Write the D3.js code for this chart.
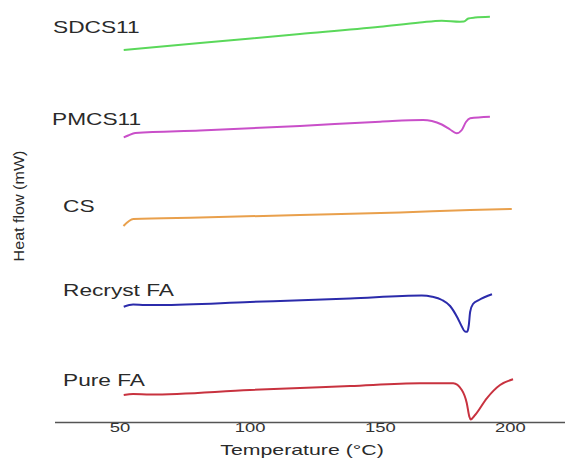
<!DOCTYPE html>
<html>
<head>
<meta charset="utf-8">
<script src="https://cdn.jsdelivr.net/npm/d3@7"></script>
<style>
  body { margin: 0; background: #fff; }
  text { font-family: "Liberation Sans", Arial, sans-serif; fill: #2a2a2a; }
</style>
</head>
<body>
<div id="chart"></div>
<script>
// temperature (°C) and stacked heat flow (arbitrary offset units)
var sdcsT = [51.6, 80.9, 119.3, 150.1, 165.4, 173.8, 180.8, 182.3, 184.0, 186.6, 192.3];
var sdcsV = [37.2, 37.9, 38.8, 39.53, 39.95, 40.13, 40.03, 40.04, 40.35, 40.45, 40.53];

var pmcsT = [51.6, 53.3, 56.0, 80.9, 119.3, 150.1, 166.6, 170.0, 173.8, 177.0, 179.5, 181.5, 183.1, 184.7, 192.3];
var pmcsV = [28.47, 28.65, 28.9, 29.15, 29.6, 30.03, 30.2, 30.1, 29.75, 29.25, 28.87, 29.2, 30.0, 30.37, 30.53];

var csT = [51.5, 55.3, 80.9, 119.3, 157.8, 184.7, 200.7];
var csV = [19.6, 20.3, 20.45, 20.7, 20.95, 21.2, 21.3];

var recT = [51.6, 55.2, 59.8, 65.6, 100.1, 138.6, 166.1, 170.1, 173.9, 177.0, 179.9, 181.6, 182.7, 183.6, 184.2, 184.7, 185.8, 188.1, 193.1];
var recV = [11.53, 11.75, 11.7, 11.7, 12.0, 12.35, 12.65, 12.53, 12.2, 11.6, 10.4, 9.5, 9.05, 9.03, 9.7, 11.0, 11.8, 12.2, 12.77];

var pureT = [51.6, 55.2, 61.7, 100.1, 138.6, 165.4, 178.2, 181.5, 183.4, 184.4, 184.9, 186.6, 191.1, 196.2, 201.2];
var pureV = [2.7, 2.8, 2.75, 3.2, 3.6, 3.87, 3.87, 3.2, 1.9, 0.53, 0.25, 0.7, 2.37, 3.7, 4.27];

var seriesNames = ["SDCS11", "PMCS11", "CS", "Recryst FA", "Pure FA"];
var xTicks = [50, 100, 150, 200];

var width = 565, height = 459;
var colors = ["#5ad85a", "#c94fc9", "#e9a04c", "#2b2bab", "#c8323f"];
// label anchor spots (left x, baseline y) in px
var labelPos = [[53, 33], [52, 125], [63, 212], [63, 296], [63, 386]];
var stretch = 1.42;

var seriesT = [sdcsT, pmcsT, csT, recT, pureT];
var seriesV = [sdcsV, pmcsV, csV, recV, pureV];
var data = seriesNames.map(function(n, i) {
    return { name: n, color: colors[i],
             pts: seriesT[i].map(function(t, j) { return { t: t, v: seriesV[i][j] }; }) };
});

var xScale = d3.scaleLinear().domain([25, 221]).range([54.5, 564.6]);
var yScale = d3.scaleLinear().domain([0, 40]).range([422, 22]);

var svg = d3.select("#chart").append("svg")
    .attr("width", width)
    .attr("height", height);

var line = d3.line()
    .x(function(d) { return xScale(d.t); })
    .y(function(d) { return yScale(d.v); })
    .curve(d3.curveMonotoneX);

svg.selectAll(".trace")
    .data(data)
    .enter()
    .append("path")
        .attr("class", "trace")
        .attr("d", function(d) { return line(d.pts); })
        .style("fill", "none")
        .style("stroke", function(d) { return d.color; })
        .style("stroke-width", 2)
        .style("stroke-linejoin", "round");

svg.selectAll(".slabel")
    .data(data)
    .enter()
    .append("text")
        .attr("class", "slabel")
        .attr("transform", function(d, i) {
            return "translate(" + labelPos[i][0] + "," + labelPos[i][1] + ") scale(" + stretch + ",1)";
        })
        .style("font-size", "16px")
        .text(function(d) { return d.name; });

// x axis, no tick marks
var xAxis = d3.axisBottom(xScale)
    .tickValues(xTicks)
    .tickSize(0)
    .tickPadding(1);

var gx = svg.append("g")
    .attr("transform", "translate(0," + yScale(0) + ")")
    .call(xAxis);
gx.select(".domain").style("stroke", "#555").style("stroke-width", 1.5);
gx.selectAll(".tick text")
    .attr("transform", "scale(" + stretch + ",1)")
    .style("font-size", "13px")
    .style("font-family", "'Liberation Sans', Arial, sans-serif")
    .style("fill", "#333");

svg.append("text")
    .attr("transform", "translate(302,455) scale(" + stretch + ",1)")
    .attr("text-anchor", "middle")
    .style("font-size", "15px")
    .text("Temperature (\u00B0C)");

svg.append("text")
    .attr("transform", "translate(24,206) rotate(-90) scale(1.15,1)")
    .attr("text-anchor", "middle")
    .style("font-size", "14px")
    .text("Heat flow (mW)");
</script>
</body>
</html>
